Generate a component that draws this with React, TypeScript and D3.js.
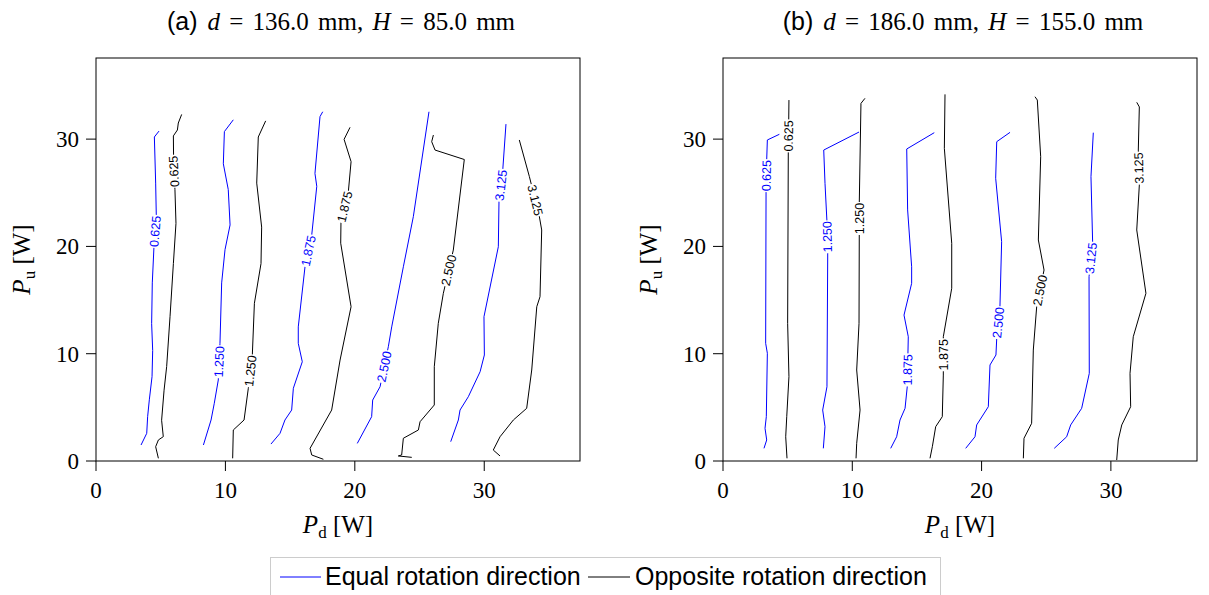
import React from 'react';
import * as d3 from 'd3';

type Pt = [number, number];

const xTicks = [0, 10, 20, 30];
const yTicks = [0, 10, 20, 30];
const levelLabels = ['0.625', '1.250', '1.875', '2.500', '3.125'];

// ---- Panel (a): d = 136 mm, H = 85 mm ----
const aEq0625: Pt[] = [[4.87,30.75],[4.51,30.2],[4.61,25.9],[4.66,22.8],[4.48,20.0],[4.35,16.6],[4.30,12.8],[4.38,10.3],[4.33,7.86],[4.12,5.7],[3.99,4.13],[3.92,2.58],[3.48,1.49]];
const aOp0625: Pt[] = [[6.62,32.3],[6.36,31.5],[6.29,30.85],[5.98,30.3],[6.0,27.5],[6.1,25.3],[6.18,22.15],[5.98,18.4],[5.72,13.45],[5.46,8.8],[5.26,6.6],[5.07,3.8],[5.2,2.27],[4.82,1.96],[4.61,1.33],[4.82,0.25]];
const aEq1250: Pt[] = [[10.61,31.8],[9.92,30.7],[9.84,27.7],[10.22,25.3],[10.36,22.0],[9.97,19.7],[9.71,16.6],[9.58,10.97],[9.45,7.55],[9.14,5.38],[8.89,3.82],[8.3,1.49]];
const aOp1250: Pt[] = [[13.11,31.7],[12.54,30.2],[12.42,25.9],[12.8,21.8],[12.75,18.4],[12.24,14.7],[12.08,9.9],[11.77,6.78],[11.44,3.82],[10.61,2.89],[10.56,0.25]];
const aEq1875: Pt[] = [[17.52,32.55],[17.31,32.1],[16.92,26.8],[17.06,25.6],[16.67,21.06],[16.15,18.1],[15.63,12.5],[15.63,10.97],[15.94,9.25],[15.25,6.78],[15.12,4.75],[14.6,3.82],[14.22,2.58],[13.52,1.58]];
const aOp1875: Pt[] = [[19.63,31.1],[19.17,29.98],[19.71,27.9],[19.5,25.1],[18.93,22.3],[18.91,20.3],[19.71,14.38],[18.86,9.41],[18.21,4.75],[16.54,1.18],[16.67,0.56],[17.57,0.16]];
const aEq2500: Pt[] = [[25.73,32.55],[24.52,22.77],[23.75,18.1],[22.85,12.5],[22.59,10.65],[21.95,6.92],[21.38,5.68],[21.3,4.13],[20.19,1.64]];
const aOp2500: Pt[] = [[26.07,30.38],[25.94,29.76],[26.2,28.98],[28.46,28.1],[27.61,19.66],[26.84,15.63],[26.45,12.83],[26.14,8.79],[26.14,5.22],[25.04,3.66],[24.91,2.89],[23.75,2.12],[23.62,0.56],[23.36,0.47],[24.4,0.34]];
const aEq3125: Pt[] = [[31.68,31.4],[31.43,27.1],[31.14,24.17],[31.09,19.97],[29.98,13.45],[30.01,9.88],[29.68,8.32],[28.77,5.99],[28.13,4.75],[28.0,3.82],[27.41,1.8]];
const aOp3125: Pt[] = [[32.71,29.92],[33.49,26.5],[34.26,22.77],[34.44,21.53],[34.31,15.31],[34.06,14.38],[33.67,8.48],[33.28,4.91],[32.25,3.82],[31.22,2.26],[30.7,1.02],[31.22,0.47]];
const aEqLabelAt: Pt[] = [[4.6,21.4],[9.55,9.25],[16.4,19.6],[22.3,8.8],[31.3,25.7]];
const aOpLabelAt: Pt[] = [[6.05,27.0],[11.95,8.4],[19.2,23.7],[27.2,17.8],[33.9,24.3]];

// ---- Panel (b): d = 186 mm, H = 155 mm ----
const bEq0625: Pt[] = [[4.36,30.45],[3.43,29.92],[3.38,28.05],[3.33,25.1],[3.3,10.97],[3.43,10.04],[3.35,4.13],[3.25,3.05],[3.38,1.96],[3.17,1.18]];
const bOp0625: Pt[] = [[5.1,33.64],[5.07,30.3],[5.05,28.83],[5.0,12.83],[5.1,7.86],[4.93,4.13],[4.85,2.26],[4.95,0.25]];
const bEq1250: Pt[] = [[10.52,30.66],[7.79,28.98],[7.89,25.88],[8.04,22.3],[8.1,19.51],[8.04,6.92],[7.71,4.75],[7.89,3.2],[7.76,1.18]];
const bOp1250: Pt[] = [[10.98,33.8],[10.67,33.33],[10.54,24.0],[10.54,21.2],[10.52,12.83],[10.34,8.48],[10.6,4.75],[10.34,1.65],[10.29,0.25]];
const bEq1875: Pt[] = [[16.34,30.6],[14.21,29.08],[14.28,23.4],[14.59,18.1],[14.59,16.56],[14.0,13.6],[14.33,11.58],[14.25,6.92],[14.08,4.91],[13.69,3.82],[13.43,2.26],[12.97,1.18]];
const bOp1875: Pt[] = [[17.17,34.17],[17.12,29.14],[17.69,20.29],[17.69,16.1],[17.04,11.58],[17.04,8.01],[16.96,4.13],[16.45,3.2],[16.19,1.33],[16.01,0.25]];
const bEq2500: Pt[] = [[22.2,30.63],[21.17,29.76],[21.09,26.35],[21.55,20.44],[21.42,14.38],[21.17,11.43],[21.11,9.88],[20.65,8.95],[20.52,5.06],[19.62,3.36],[19.49,2.26],[18.77,1.18]];
const bOp2500: Pt[] = [[24.13,33.95],[24.31,33.64],[24.57,28.36],[24.39,20.6],[24.83,17.8],[24.26,14.38],[24.0,10.34],[23.87,3.51],[23.28,2.12],[23.23,0.25]];
const bEq3125: Pt[] = [[28.64,30.6],[28.46,26.5],[28.59,20.29],[28.31,17.18],[28.33,8.17],[27.74,4.91],[26.89,3.36],[26.58,2.26],[25.62,1.18]];
const bOp3125: Pt[] = [[32.0,33.43],[32.2,33.0],[32.12,28.98],[32.2,25.72],[32.0,21.53],[32.71,15.63],[31.73,11.58],[31.48,8.17],[31.53,5.06],[30.84,3.36],[30.57,1.96],[30.45,0.09]];
const bEqLabelAt: Pt[] = [[3.36,26.6],[8.07,20.9],[14.3,8.5],[21.3,12.9],[28.45,18.9]];
const bOpLabelAt: Pt[] = [[5.07,30.3],[10.54,22.6],[17.04,9.9],[24.55,15.9],[32.15,27.3]];

const BLUE = '#0000ff';
const BLACK = '#000000';
const SERIF = '"Liberation Serif", "DejaVu Serif", serif';
const SANS = '"Liberation Sans", Arial, sans-serif';

interface PanelSpec {
  x0: number; x1: number; xMax: number;
  eq: Pt[][]; op: Pt[][]; eqAt: Pt[]; opAt: Pt[];
  tag: string; d: string; H: string;
}

const panels: PanelSpec[] = [
  { x0: 96, x1: 580, xMax: 37.4, eq: [aEq0625, aEq1250, aEq1875, aEq2500, aEq3125], op: [aOp0625, aOp1250, aOp1875, aOp2500, aOp3125], eqAt: aEqLabelAt, opAt: aOpLabelAt, tag: '(a)', d: '136.0', H: '85.0' },
  { x0: 723, x1: 1197, xMax: 36.66, eq: [bEq0625, bEq1250, bEq1875, bEq2500, bEq3125], op: [bOp0625, bOp1250, bOp1875, bOp2500, bOp3125], eqAt: bEqLabelAt, opAt: bOpLabelAt, tag: '(b)', d: '186.0', H: '155.0' },
];

const TOP = 58;
const BOTTOM = 461;
const YMAX = 37.56;

function placeLabel(scr: Pt[], at: Pt) {
  let best = { d: Infinity, x: at[0], y: at[1], ang: -90 };
  for (let i = 0; i < scr.length - 1; i++) {
    const a = scr[i], b = scr[i + 1];
    const dx = b[0] - a[0], dy = b[1] - a[1];
    const L2 = dx * dx + dy * dy || 1;
    let t = ((at[0] - a[0]) * dx + (at[1] - a[1]) * dy) / L2;
    t = Math.max(0, Math.min(1, t));
    const px = a[0] + t * dx, py = a[1] + t * dy;
    const dd = Math.hypot(px - at[0], py - at[1]);
    if (dd < best.d) {
      const up = a[1] < b[1] ? a : b;
      const lo = a[1] < b[1] ? b : a;
      let ang = (Math.atan2(up[1] - lo[1], up[0] - lo[0]) * 180) / Math.PI;
      if (ang < -100) ang += 180;
      best = { d: dd, x: px, y: py, ang };
    }
  }
  return best;
}

function Panel({ p }: { p: PanelSpec }) {
  const x = d3.scaleLinear().domain([0, p.xMax]).range([p.x0, p.x1]);
  const y = d3.scaleLinear().domain([0, YMAX]).range([BOTTOM, TOP]);
  const line = d3.line<Pt>().x((d) => x(d[0])).y((d) => y(d[1]));
  const cx = (p.x0 + p.x1) / 2;

  const contours: { pts: Pt[]; at: Pt; color: string; label: string }[] = [];
  p.eq.forEach((pts, i) => contours.push({ pts, at: p.eqAt[i], color: BLUE, label: levelLabels[i] }));
  p.op.forEach((pts, i) => contours.push({ pts, at: p.opAt[i], color: BLACK, label: levelLabels[i] }));

  return (
    <g>
      {/* title */}
      <text x={cx + 3} y={30} textAnchor="middle" fontSize={25} fill="#000" wordSpacing={3}>
        <tspan fontFamily={SANS}>{p.tag} </tspan>
        <tspan fontFamily={SERIF} fontStyle="italic">d</tspan>
        <tspan fontFamily={SERIF}>{` = ${p.d} mm, `}</tspan>
        <tspan fontFamily={SERIF} fontStyle="italic">H</tspan>
        <tspan fontFamily={SERIF}>{` = ${p.H} mm`}</tspan>
      </text>

      {/* contours */}
      {contours.map((c, i) => (
        <path key={'l' + i} d={line(c.pts) || ''} fill="none" stroke={c.color} strokeWidth={1} />
      ))}
      {contours.map((c, i) => {
        const scr: Pt[] = c.pts.map((d) => [x(d[0]), y(d[1])]);
        const pl = placeLabel(scr, [x(c.at[0]), y(c.at[1])]);
        return (
          <g key={'t' + i} transform={`translate(${pl.x},${pl.y}) rotate(${pl.ang})`}>
            <rect x={-16.5} y={-5} width={33} height={10} fill="#fff" />
            <text x={0} y={0} dy="0.35em" textAnchor="middle" fontFamily={SANS} fontSize={12.5} fill={c.color}>
              {c.label}
            </text>
          </g>
        );
      })}

      {/* frame */}
      <rect x={p.x0} y={TOP} width={p.x1 - p.x0} height={BOTTOM - TOP} fill="none" stroke="#000" strokeWidth={1} />

      {/* x ticks */}
      {xTicks.map((t) => (
        <g key={'xt' + t}>
          <line x1={x(t)} x2={x(t)} y1={BOTTOM} y2={BOTTOM + 10} stroke="#000" strokeWidth={1} />
          <text x={x(t)} y={BOTTOM + 37} textAnchor="middle" fontFamily={SERIF} fontSize={23} fill="#000">{t}</text>
        </g>
      ))}
      {/* y ticks */}
      {yTicks.map((t) => (
        <g key={'yt' + t}>
          <line x1={p.x0 - 10} x2={p.x0} y1={y(t)} y2={y(t)} stroke="#000" strokeWidth={1} />
          <text x={p.x0 - 17} y={y(t)} dy="0.35em" textAnchor="end" fontFamily={SERIF} fontSize={23} fill="#000">{t}</text>
        </g>
      ))}

      {/* x label */}
      <text x={cx} y={533} textAnchor="middle" fontFamily={SERIF} fontSize={25} fill="#000">
        <tspan fontStyle="italic">P</tspan>
        <tspan fontSize={17} dy={5}>d</tspan>
        <tspan dy={-5}>{' [W]'}</tspan>
      </text>
      {/* y label */}
      <text transform={`translate(${p.x0 - 66},${(TOP + BOTTOM) / 2}) rotate(-90)`} textAnchor="middle" fontFamily={SERIF} fontSize={25} fill="#000">
        <tspan fontStyle="italic">P</tspan>
        <tspan fontSize={17} dy={5}>u</tspan>
        <tspan dy={-5}>{' [W]'}</tspan>
      </text>
    </g>
  );
}

export default function App() {
  return (
    <svg width={1209} height={595} style={{ position: 'absolute', left: 0, top: 0, background: '#fff' }}>
      <rect x={0} y={0} width={1209} height={595} fill="#fff" />
      {panels.map((p, i) => (
        <Panel key={i} p={p} />
      ))}
      {/* legend */}
      <g>
        <rect x={270.5} y={557.5} width={670} height={50} fill="#fff" stroke="#cccccc" strokeWidth={1} />
        <line x1={280} x2={321} y1={577} y2={577} stroke={BLUE} strokeWidth={1} />
        <text x={325} y={585} fontFamily={SANS} fontSize={25} fill="#000">Equal rotation direction</text>
        <line x1={588} x2={630} y1={577} y2={577} stroke={BLACK} strokeWidth={1} />
        <text x={635} y={585} fontFamily={SANS} fontSize={25} fill="#000">Opposite rotation direction</text>
      </g>
    </svg>
  );
}
